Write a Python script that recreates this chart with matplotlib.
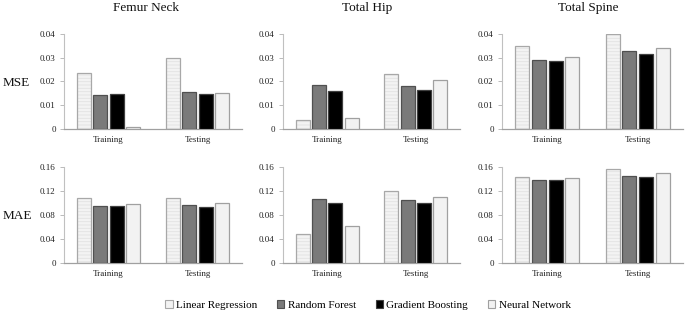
import matplotlib
matplotlib.use("Agg")
import matplotlib.pyplot as plt
from matplotlib.patches import Patch
from matplotlib.ticker import FuncFormatter
import numpy as np

plt.rcParams['font.family'] = ['Liberation Serif', 'DejaVu Serif']
plt.rcParams['hatch.linewidth'] = 0.6

sites = ["Femur Neck", "Total Hip", "Total Spine"]
metrics = ["MSE", "MAE"]
phases = ["Training", "Testing"]
models = ["Linear Regression", "Random Forest", "Gradient Boosting", "Neural Network"]

# values[model] = [Training, Testing]
mse_femur = {"Linear Regression": [0.0237, 0.0297], "Random Forest": [0.0142, 0.0155],
             "Gradient Boosting": [0.0146, 0.0148], "Neural Network": [0.0010, 0.0152]}
mse_hip = {"Linear Regression": [0.0038, 0.0230], "Random Forest": [0.0184, 0.0180],
           "Gradient Boosting": [0.0162, 0.0164], "Neural Network": [0.0046, 0.0205]}
mse_spine = {"Linear Regression": [0.0351, 0.0400], "Random Forest": [0.0291, 0.0330],
             "Gradient Boosting": [0.0287, 0.0314], "Neural Network": [0.0302, 0.0339]}
mae_femur = {"Linear Regression": [0.108, 0.1076], "Random Forest": [0.0943, 0.096],
             "Gradient Boosting": [0.0949, 0.0932], "Neural Network": [0.0977, 0.0993]}
mae_hip = {"Linear Regression": [0.0478, 0.1193], "Random Forest": [0.1067, 0.1056],
           "Gradient Boosting": [0.1001, 0.1001], "Neural Network": [0.0616, 0.1105]}
mae_spine = {"Linear Regression": [0.1439, 0.1567], "Random Forest": [0.1378, 0.145],
             "Gradient Boosting": [0.1378, 0.1439], "Neural Network": [0.1417, 0.1506]}

data = {"MSE": [mse_femur, mse_hip, mse_spine], "MAE": [mae_femur, mae_hip, mae_spine]}
yticks = {"MSE": [0, 0.01, 0.02, 0.03, 0.04], "MAE": [0, 0.04, 0.08, 0.12, 0.16]}

face = {"Linear Regression": "#f3f3f3", "Random Forest": "#7a7a7a",
        "Gradient Boosting": "#000000", "Neural Network": "#f2f2f2"}
edge = {"Linear Regression": "#a8a8a8", "Random Forest": "#505050",
        "Gradient Boosting": "#404040", "Neural Network": "#a0a0a0"}

fig = plt.figure(figsize=(6.85, 3.16), dpi=100)

W, H = 685.0, 316.0
col_px = [(64, 242), (283, 460), (502, 683)]
row_px = {"MSE": (34, 129), "MAE": (167, 263)}
title_x = [146, 367, 588]

spacing = 0.185
width = 0.157
x = np.arange(len(phases))

for r, metric in enumerate(metrics):
    top, bot = row_px[metric]
    for c, site in enumerate(sites):
        l, rr = col_px[c]
        ax = fig.add_axes([l / W, 1 - bot / H, (rr - l) / W, (bot - top) / H])
        vals = data[metric][c]
        for i, m in enumerate(models):
            pos = x + (i - 1.5) * spacing
            if m == "Linear Regression":
                ax.bar(pos, vals[m], width, color=face[m], edgecolor="#e2e2e2",
                       hatch="-----", linewidth=0, zorder=2)
                ax.bar(pos, vals[m], width, fill=False, edgecolor=edge[m],
                       linewidth=0.9, zorder=3)
            else:
                ax.bar(pos, vals[m], width, color=face[m], edgecolor=edge[m],
                       linewidth=0.9, zorder=3)
        ax.set_xlim(-0.5, 1.5)
        ax.set_ylim(0, yticks[metric][-1])
        ax.set_yticks(yticks[metric])
        ax.yaxis.set_major_formatter(FuncFormatter(lambda v, p: "0" if v == 0 else "%g" % v))
        ax.set_xticks(x)
        ax.set_xticklabels(phases)
        ax.tick_params(axis="x", length=0, labelsize=6.5, pad=5, colors="#222222")
        ax.tick_params(axis="y", length=3, width=0.6, labelsize=6.5, pad=3,
                       colors="#b0b0b0", labelcolor="#222222")
        for s in ["top", "right"]:
            ax.spines[s].set_visible(False)
        ax.spines["left"].set_color("#c0c0c0")
        ax.spines["left"].set_linewidth(0.8)
        ax.spines["bottom"].set_color("#a0a0a0")
        ax.spines["bottom"].set_linewidth(0.9)
        if r == 0:
            fig.text(title_x[c] / W, 1 - 8 / H, site, ha="center", va="center",
                     fontsize=9.5, color="#111111")
    fig.text(3 / W, 1 - ((top + bot) / 2 + 1) / H, metric, ha="left", va="center",
             fontsize=9.5, color="#111111")

handles = [Patch(facecolor=face[m], edgecolor=edge[m], linewidth=0.8) for m in models]
fig.legend(handles, models, loc="center", bbox_to_anchor=(368 / W, 1 - 305 / H),
           ncol=4, frameon=False, fontsize=8, handlelength=0.65, handleheight=0.65,
           handletextpad=0.3, columnspacing=1.8)

fig.savefig("out.png", dpi=100, facecolor="white")
